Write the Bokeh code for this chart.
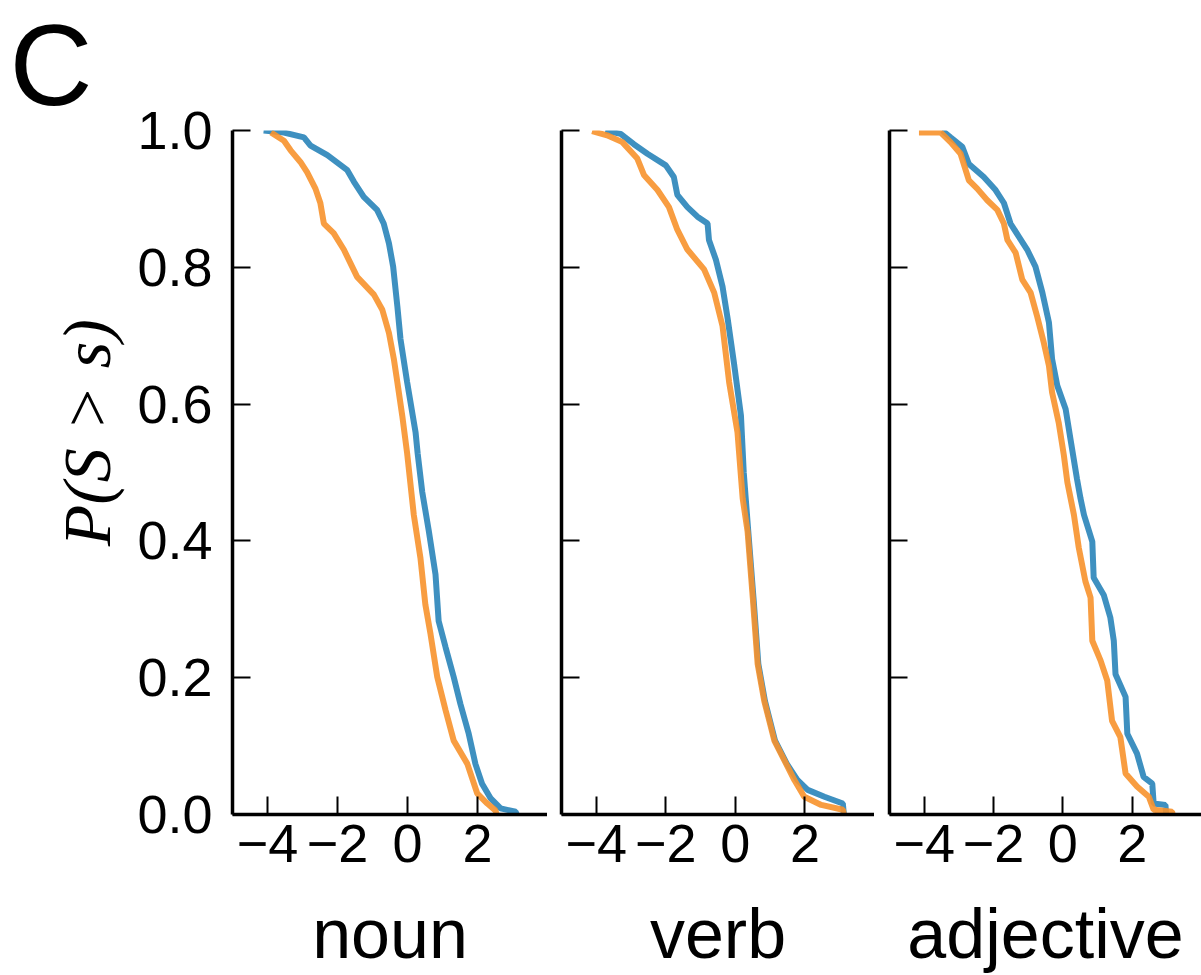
import math
from bokeh.plotting import figure
from bokeh.models import FixedTicker, CustomJSTickFormatter, Range1d, Title
from bokeh.layouts import row
from bokeh.embed import file_html
from bokeh.resources import INLINE
from bokeh.core.properties import value

# ---------------- data ----------------
panel_names = ["noun", "verb", "adjective"]
x_ticks = [-4, -2, 0, 2]
x_tick_labels = ["\u22124", "\u22122", "0", "2"]
y_ticks = [0.0, 0.2, 0.4, 0.6, 0.8, 1.0]
y_tick_labels = ["0.0", "0.2", "0.4", "0.6", "0.8", "1.0"]
y_label = "P(S > s)"
panel_letter = "C"

noun_blue_x = [-4.11, -3.53, -2.96, -2.77, -2.29, -1.72, -1.53, -1.25, -0.87, -0.68, -0.53, -0.41,
               -0.29, -0.20, -0.01, 0.23, 0.29, 0.42, 0.61, 0.80, 0.89, 1.09, 1.32, 1.51, 1.75,
               1.94, 2.13, 2.37, 2.66, 3.09, 3.12]
noun_blue_y = [1.000, 0.997, 0.990, 0.978, 0.964, 0.942, 0.925, 0.903, 0.884, 0.864, 0.835, 0.801,
               0.743, 0.695, 0.632, 0.559, 0.528, 0.472, 0.414, 0.351, 0.283, 0.244, 0.201, 0.162,
               0.118, 0.074, 0.045, 0.024, 0.009, 0.004, 0.000]
noun_orange_x = [-3.90, -3.53, -3.34, -3.06, -2.87, -2.63, -2.49, -2.39, -2.11, -1.82, -1.44, -0.96,
                 -0.72, -0.53, -0.39, -0.29, -0.15, -0.01, 0.18, 0.37, 0.51, 0.66, 0.85, 1.09, 1.32,
                 1.71, 1.99, 2.28, 2.51, 2.55]
noun_orange_y = [0.997, 0.985, 0.971, 0.954, 0.939, 0.915, 0.894, 0.864, 0.850, 0.826, 0.786, 0.760,
                 0.738, 0.704, 0.666, 0.632, 0.583, 0.528, 0.438, 0.375, 0.307, 0.263, 0.201, 0.152,
                 0.108, 0.074, 0.031, 0.016, 0.006, 0.000]

verb_blue_x = [-3.74, -3.30, -2.92, -2.53, -2.00, -1.77, -1.67, -1.38, -1.09, -0.80, -0.76, -0.56,
               -0.37, -0.22, -0.03, 0.16, 0.24, 0.37, 0.52, 0.66, 0.85, 1.14, 1.48, 1.79, 2.08,
               2.56, 3.09, 3.12]
verb_blue_y = [1.000, 0.995, 0.980, 0.966, 0.949, 0.932, 0.906, 0.888, 0.874, 0.864, 0.840, 0.811,
               0.772, 0.724, 0.656, 0.583, 0.500, 0.414, 0.317, 0.220, 0.166, 0.108, 0.074, 0.050,
               0.036, 0.026, 0.016, 0.000]
verb_orange_x = [-4.12, -3.69, -3.25, -2.82, -2.63, -2.24, -1.91, -1.67, -1.38, -0.90, -0.61, -0.37,
                 -0.18, 0.06, 0.21, 0.35, 0.50, 0.64, 0.83, 1.12, 1.46, 1.70, 1.98, 2.47, 3.09, 3.12]
verb_orange_y = [0.999, 0.993, 0.983, 0.959, 0.935, 0.913, 0.888, 0.855, 0.826, 0.797, 0.763, 0.714,
                 0.632, 0.559, 0.462, 0.414, 0.317, 0.220, 0.166, 0.108, 0.074, 0.050, 0.026, 0.014,
                 0.007, 0.000]

adj_blue_x = [-3.48, -3.24, -2.90, -2.71, -2.28, -1.94, -1.70, -1.51, -1.27, -1.03, -0.79, -0.59,
              -0.40, -0.31, -0.16, 0.08, 0.22, 0.41, 0.51, 0.61, 0.85, 0.89, 1.18, 1.37, 1.47, 1.52,
              1.81, 1.86, 2.14, 2.33, 2.58, 2.62, 2.96, 2.98]
adj_blue_y = [1.000, 0.990, 0.976, 0.951, 0.932, 0.913, 0.894, 0.864, 0.845, 0.826, 0.801, 0.763,
              0.719, 0.666, 0.627, 0.593, 0.549, 0.490, 0.462, 0.438, 0.399, 0.346, 0.321, 0.288,
              0.254, 0.205, 0.172, 0.118, 0.089, 0.055, 0.045, 0.016, 0.014, 0.000]
adj_orange_x = [-4.15, -3.52, -3.24, -2.95, -2.71, -2.47, -2.18, -1.89, -1.70, -1.60, -1.36, -1.17,
                -0.93, -0.74, -0.55, -0.40, -0.31, -0.12, 0.03, 0.13, 0.32, 0.46, 0.65, 0.80, 0.85,
                1.09, 1.28, 1.42, 1.66, 1.81, 2.14, 2.48, 2.62, 3.15, 3.17]
adj_orange_y = [0.997, 0.997, 0.983, 0.966, 0.927, 0.915, 0.898, 0.884, 0.864, 0.840, 0.821, 0.782,
                0.763, 0.728, 0.690, 0.656, 0.617, 0.573, 0.525, 0.486, 0.438, 0.390, 0.341, 0.317,
                0.254, 0.225, 0.196, 0.137, 0.113, 0.060, 0.041, 0.026, 0.007, 0.004, 0.000]

series = [
    (noun_blue_x, noun_blue_y, noun_orange_x, noun_orange_y),
    (verb_blue_x, verb_blue_y, verb_orange_x, verb_orange_y),
    (adj_blue_x, adj_blue_y, adj_orange_x, adj_orange_y),
]

# ---------------- styling / layout ----------------
BLUE = "#348ABD"
ORANGE = "#F7922C"
SANS = "Liberation Sans"
SERIF = "Liberation Serif"
H = 975
TOP = 130
FRAME_H = 688
BOTTOM = H - TOP - FRAME_H
X_RANGE = (-5, 4)
SIDE_W = 130          # strip on the left carrying the panel letter and the y title

# (frame width, left border)
geom = [(315, 232 - SIDE_W), (313, 14), (312, 15)]

# left strip: panel letter (as its title) and the y-axis title.
# Its frame lines up with the panels' frames; y is measured in pixels up from the frame bottom.
side = figure(width=SIDE_W, height=H, x_range=Range1d(0, SIDE_W), y_range=Range1d(0, FRAME_H),
              output_backend="svg", toolbar_location=None, x_axis_type=None, y_axis_type=None,
              min_border_left=0, min_border_right=0, min_border_top=TOP,
              min_border_bottom=BOTTOM)
side.title = Title(text=panel_letter, align="left", offset=9, standoff=0,
                   vertical_align="top", text_font=SANS, text_font_size="115px",
                   text_font_style="normal", text_color="black")
side.grid.visible = False
side.outline_line_color = None
side.text(x=[86], y=[384], text=[y_label], text_font=value(SERIF),
          text_font_style="italic", text_font_size="68px", text_color="black",
          text_align="center", text_baseline="middle", angle=math.pi / 2)

plots = [side]
for i, (name, (bx, by, ox, oy), (fw, bl)) in enumerate(zip(panel_names, series, geom)):
    p = figure(width=bl + fw, height=H, x_range=Range1d(*X_RANGE), y_range=Range1d(0, 1),
               output_backend="svg", toolbar_location=None,
               min_border_left=bl, min_border_right=0, min_border_top=TOP,
               min_border_bottom=BOTTOM)
    p.line(bx, by, line_color=BLUE, line_width=6, line_alpha=0.95)
    p.line(ox, oy, line_color=ORANGE, line_width=6, line_alpha=0.9)

    p.grid.visible = False
    p.outline_line_color = None
    p.background_fill_color = "white"
    p.border_fill_color = "white"

    for ax in (p.xaxis[0], p.yaxis[0]):
        ax.axis_line_width = 3.5
        ax.axis_line_color = "black"
        ax.major_tick_in = 18
        ax.major_tick_out = 0
        ax.major_tick_line_width = 2
        ax.major_tick_line_color = "black"
        ax.minor_tick_line_color = None
        ax.major_label_text_font = SANS
        ax.major_label_text_font_size = "54px"
        ax.major_label_text_color = "black"

    p.xaxis.ticker = FixedTicker(ticks=x_ticks)
    p.xaxis.major_label_overrides = {t: l for t, l in zip(x_ticks, x_tick_labels)}
    p.xaxis.major_label_standoff = 10
    p.xaxis.axis_label = name
    p.xaxis.axis_label_text_font = SANS
    p.xaxis.axis_label_text_font_size = "70px"
    p.xaxis.axis_label_text_font_style = "normal"
    p.xaxis.axis_label_text_color = "black"
    p.xaxis.axis_label_standoff = 30

    p.yaxis.ticker = FixedTicker(ticks=y_ticks)
    if i == 0:
        p.yaxis.major_label_overrides = {t: l for t, l in zip(y_ticks, y_tick_labels)}
        p.yaxis.major_label_standoff = 20
    else:
        p.yaxis.formatter = CustomJSTickFormatter(code="return ''")
        p.yaxis.major_label_text_font_size = "1px"
        p.yaxis.major_label_standoff = 0
    plots.append(p)

layout = row(*plots, spacing=0)
open("out.html", "w").write(file_html(layout, INLINE))
